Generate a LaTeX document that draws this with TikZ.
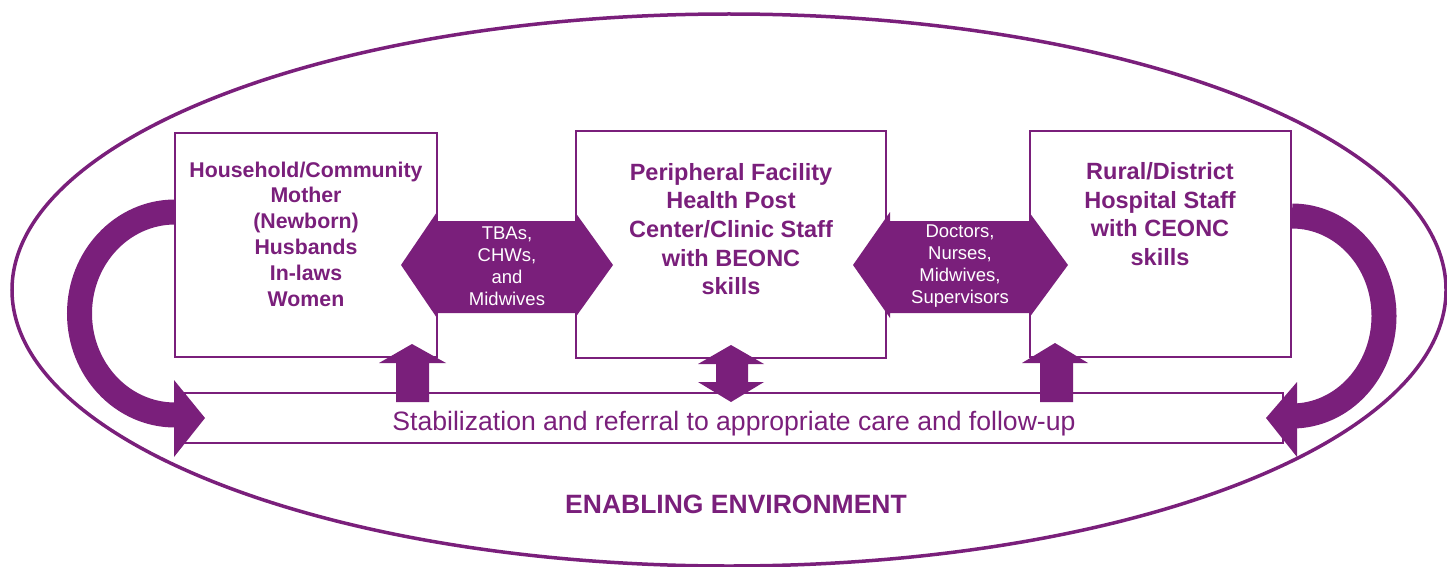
\documentclass[tikz,border=0pt]{standalone}
\usepackage{fontspec}
\setmainfont{Liberation Sans}
\definecolor{mnhpurple}{RGB}{122,31,123}
\tikzset{
  level/.style={draw=mnhpurple,line width=2.5pt,fill=white,inner sep=0pt},
  leveltext/.style={text=mnhpurple,align=center,font=\bfseries\fontsize{23.5}{28.7}\selectfont},
  cadretext/.style={text=white,align=center,font=\fontsize{18.5}{22}\selectfont},
  blockarrow/.style={fill=mnhpurple},
  returnarc/.style={draw=mnhpurple,line width=25pt}
}
\begin{document}
\begin{tikzpicture}[x=1pt,y=-1pt]
      \useasboundingbox (0,0) rectangle (1447,567);
      \draw[mnhpurple,line width=3.5pt] (729,290) ellipse[x radius=717,y radius=276];
      \draw[returnarc] (175,212) arc[start angle=270,end angle=90,x radius=95.5,y radius=101.5];
      \draw[returnarc] (1292,216) arc[start angle=-90,end angle=90,x radius=92,y radius=100];
      \draw
        (306,245) node[level,minimum width=262,minimum height=224] (hh){}
        (731,244.5) node[level,minimum width=310,minimum height=227] (pf){}
        (1160.5,244) node[level,minimum width=261,minimum height=226] (dh){}
        (734,418) node[level,minimum width=1098,minimum height=50,text height=29.5pt,text depth=5.5pt,
          text=mnhpurple,font=\fontsize{26.6}{30}\selectfont] (stab){Stabilization and referral to appropriate care and follow-up};
      \draw
        (306,234) node[leveltext,font=\bfseries\fontsize{21.3}{25.8}\selectfont] (hhtext){Household/Community\\Mother\\(Newborn)\\Husbands\\In-laws\\Women}
        (731,229) node[leveltext] (pftext){Peripheral Facility\\Health Post\\Center/Clinic Staff\\with BEONC\\skills}
        (1160,214) node[leveltext] (dhtext){Rural/District\\Hospital Staff\\with CEONC\\skills}
        (736,504) node[text=mnhpurple,font=\bfseries\fontsize{26.5}{30}\selectfont] (env){ENABLING ENVIRONMENT};
      \begin{scope}[blockarrow]
        \fill (174,380) -- (205,418) -- (174,457) -- cycle;
        \fill (1297,382) -- (1266,418) -- (1297,457) -- cycle;
        \fill (401,265) -- (437,212) -- (437,221) -- (575,221) -- (575,212) -- (613,265)
          -- (575,318) -- (575,313) -- (437,313) -- (437,318) -- cycle;
        \fill (853,265) -- (890,212) -- (890,221) -- (1029,221) -- (1029,212) -- (1068,265)
          -- (1029,318) -- (1029,313) -- (890,313) -- (890,318) -- cycle;
        \fill (412,344) -- (446,363) -- (429,363) -- (429,402) -- (396,402) -- (396,363) -- (379,363) -- cycle;
        \fill (731,345) -- (764,364) -- (748,364) -- (748,382) -- (764,382) -- (731,402)
          -- (698,382) -- (716,382) -- (716,364) -- (698,364) -- cycle;
        \fill (1055,343) -- (1088,363) -- (1073,363) -- (1073,402) -- (1040,402) -- (1040,363) -- (1022,363) -- cycle;
      \end{scope}
      \draw
        (507,266) node[cadretext] (cadre1){TBAs,\\CHWs,\\and\\Midwives}
        (960,266) node[cadretext] (cadre2){Doctors,\\Nurses,\\Midwives,\\Supervisors};
    \end{tikzpicture}
\end{document}
